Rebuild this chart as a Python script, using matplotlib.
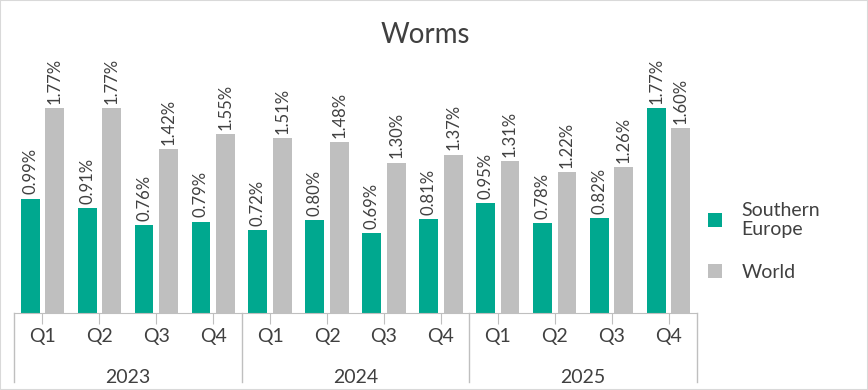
import matplotlib.pyplot as plt
import numpy as np

quarters = ["Q1", "Q2", "Q3", "Q4"] * 3
years = ["2023", "2024", "2025"]
southern_europe = [0.99, 0.91, 0.76, 0.79, 0.72, 0.80, 0.69, 0.81, 0.95, 0.78, 0.82, 1.77]
world = [1.77, 1.77, 1.42, 1.55, 1.51, 1.48, 1.30, 1.37, 1.31, 1.22, 1.26, 1.60]

teal = "#00A88F"
grey = "#BFBFBF"
txt = "#404040"
plt.rcParams['font.family'] = ['Lato', 'DejaVu Sans']

fig = plt.figure(figsize=(8.68, 3.9), dpi=100)
ax = fig.add_axes([14/868, 1-313/390, (697-14)/868, 266/390])

x = np.arange(len(quarters))
w = 0.33
ax.bar(x - 0.215, southern_europe, w, color=teal, label="Southern\nEurope")
ax.bar(x + 0.215, world, w, color=grey, label="World")

for i in range(len(x)):
    ax.annotate(f"{southern_europe[i]:.2f}%", (x[i] - 0.215, southern_europe[i]), xytext=(0, 3),
                textcoords="offset points", rotation=90, ha="center", va="bottom", fontsize=12, color=txt)
    ax.annotate(f"{world[i]:.2f}%", (x[i] + 0.215, world[i]), xytext=(0, 3),
                textcoords="offset points", rotation=90, ha="center", va="bottom", fontsize=12, color=txt)

ax.set_xlim(-0.5, len(x) - 0.5)
ax.set_ylim(0, 2.3)
ax.set_yticks([])
for s in ["top", "right", "left"]:
    ax.spines[s].set_visible(False)
ax.spines["bottom"].set_color("#BFBFBF")
ax.set_xticks(x)
ax.set_xticklabels(quarters, fontsize=14, color=txt)
ax.tick_params(axis="x", length=8, color="#BFBFBF", pad=3)

# year level
for k, yr in enumerate(years):
    ax.text(k*4 + 1.5, -0.555, yr, ha="center", va="center", fontsize=14, color=txt, clip_on=False)
for b in [-0.5, 3.5, 7.5, 11.5]:
    ax.plot([b, b], [0, -0.6], color="#BFBFBF", lw=1, clip_on=False)

fig.text(0.49, 1 - 35/390, "Worms", ha="center", va="center", fontsize=20, color=txt)

ax.legend(loc="center left", bbox_to_anchor=(0.99, 0.27), frameon=False, fontsize=14,
          labelcolor=txt, handlelength=0.75, handleheight=0.75, handletextpad=1.0,
          labelspacing=1.3)

fig.patches.append(plt.Rectangle((0, 0), 1, 1, transform=fig.transFigure, fill=False,
                                 edgecolor="#D9D9D9", lw=1.5))
fig.savefig("out.png", dpi=100)
